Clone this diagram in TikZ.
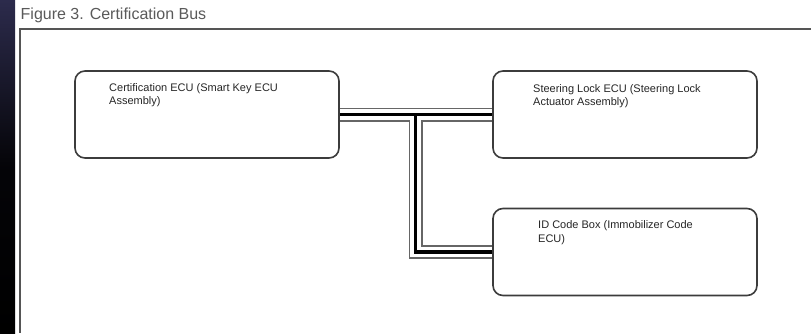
\documentclass[tikz,border=0pt]{standalone}
\usepackage{fontspec}
\setmainfont{Liberation Sans}
\usetikzlibrary{calc}
\definecolor{framegray}{HTML}{555555}
\definecolor{boxgray}{HTML}{3C3C3C}
\definecolor{titlegray}{HTML}{5A5A5A}
\definecolor{busgray}{HTML}{666666}
\definecolor{navy}{HTML}{2C2B4C}
\begin{document}
\begin{tikzpicture}[x=1pt,y=-1pt,
  ecubox/.style={draw=boxgray,line width=1.6pt,rounded corners=10pt,minimum width=264pt,minimum height=87pt,inner sep=0pt},
  ecutext/.style={anchor=north west,inner sep=0pt,align=left,font=\fontsize{11}{13.5}\selectfont,text=black!85},
  busouter/.style={line width=14pt,draw=busgray,line join=miter},
  businner/.style={line width=10.6pt,draw=white,line join=miter},
  buscore/.style={line width=3.8pt,draw=black,line join=miter}]
\useasboundingbox (0,0) rectangle (811,333);
\fill[white] (0,0) rectangle (811,333);
\shade[top color=navy,bottom color=black,middle color=black!90!navy] (0,0) rectangle (15,333);
% frame
\draw[framegray,line width=1.5pt] (811,29) -- (20,29) -- (20,333);
% title
\node[anchor=base west,inner sep=0pt,text=titlegray,font=\fontsize{16}{18}\selectfont] (title) at (20.5,19.5) {Figure 3. Certification Bus};
% box outlines placed first (invisible) to get anchors
\coordinate (b1c) at (207,114.5);
\coordinate (b2c) at (625,114.5);
\coordinate (b3c) at (625,252);
\path (b1c) node[ecubox,draw=none] (b1) {};
\path (b2c) node[ecubox,draw=none] (b2) {};
\path (b3c) node[ecubox,draw=none] (b3) {};
\coordinate (j) at (415.5,114.5);
\coordinate (k) at (j |- b3.west);
% bus, drawn in layers
\draw[busouter] (b1.east) -- (b2.west) (j) -- (k) -- (b3.west);
\draw[businner] (b1.east) -- (b2.west) (j) -- (k) -- (b3.west);
\draw[buscore] (b1.east) -- (b2.west) (j) -- (k) -- (b3.west);
% boxes drawn on top
\path (b1c) node[ecubox] (b1f) {};
\path (b2c) node[ecubox] (b2f) {};
\path (b3c) node[ecubox] (b3f) {};
% texts
\node[ecutext] (t1) at (109,83) {Certification ECU (Smart Key ECU\\Assembly)};
\node[ecutext] (t2) at (533,84) {Steering Lock ECU (Steering Lock\\Actuator Assembly)};
\node[ecutext] (t3) at (538,220.5) {ID Code Box (Immobilizer Code\\ECU)};
\end{tikzpicture}
\end{document}
